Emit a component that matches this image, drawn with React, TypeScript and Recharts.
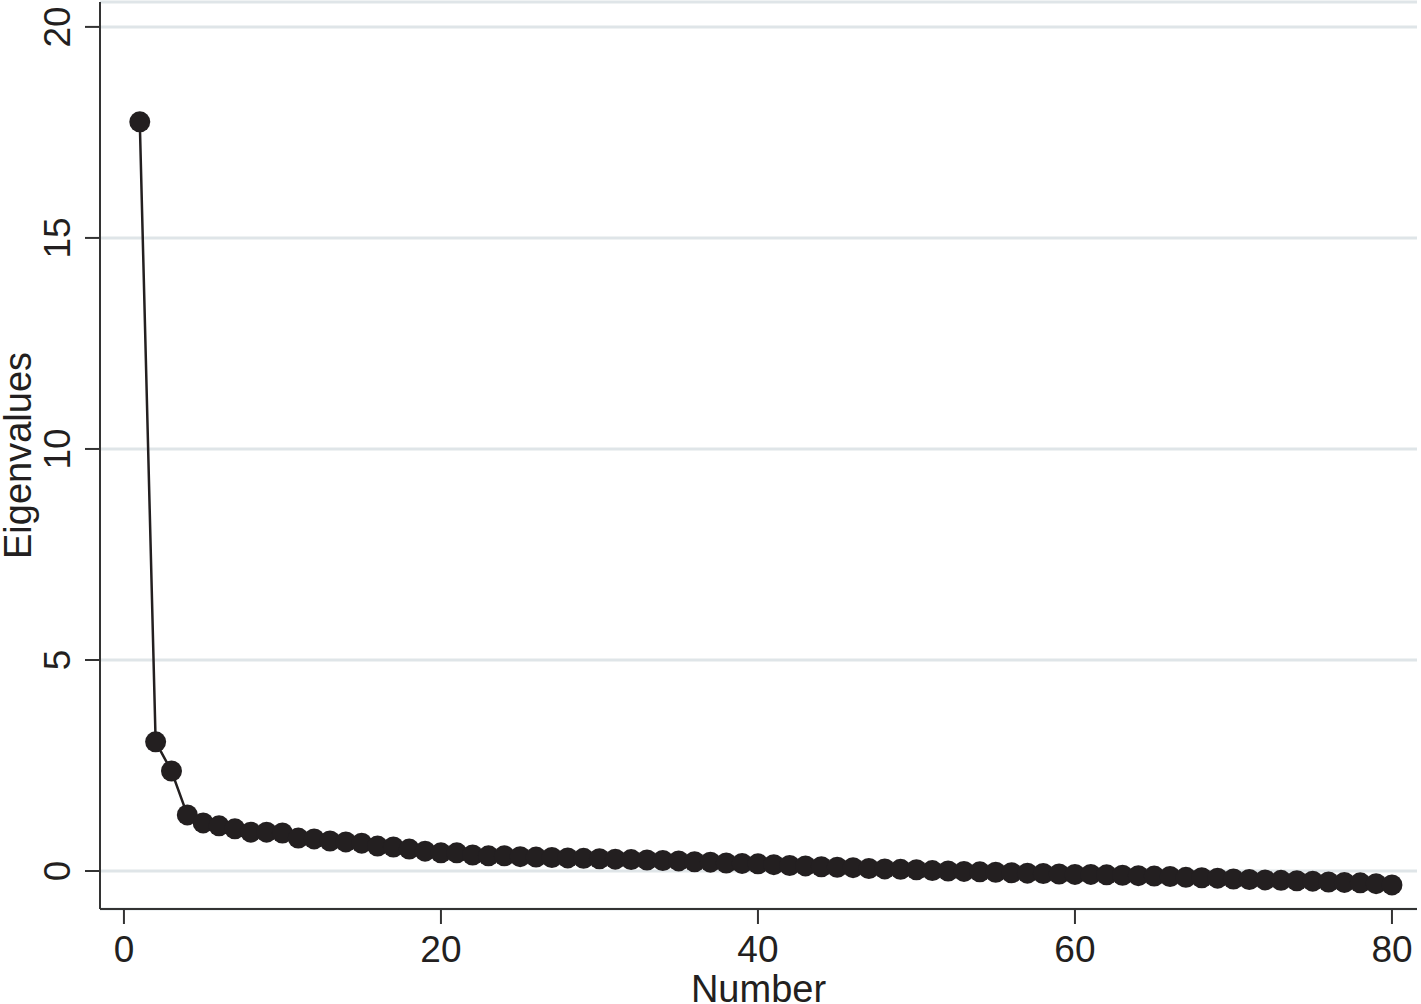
import { CartesianGrid, Label, Line, LineChart, XAxis, YAxis } from 'recharts'

const componentNumbers = Array.from({ length: 80 }, (_, i) => i + 1)

const eigenvalues = [
  17.75, 3.06, 2.37, 1.33, 1.14, 1.07, 1.0, 0.92, 0.92, 0.9,
  0.78, 0.76, 0.71, 0.69, 0.66, 0.59, 0.57, 0.52, 0.47, 0.43,
  0.43, 0.38, 0.36, 0.36, 0.34, 0.33, 0.32, 0.31, 0.3, 0.29,
  0.28, 0.27, 0.26, 0.25, 0.24, 0.22, 0.21, 0.19, 0.18, 0.17,
  0.15, 0.13, 0.12, 0.1, 0.09, 0.08, 0.06, 0.05, 0.04, 0.03,
  0.01, 0.0, -0.01, -0.02, -0.03, -0.04, -0.05, -0.06, -0.07, -0.08,
  -0.08, -0.09, -0.1, -0.11, -0.12, -0.13, -0.15, -0.16, -0.17, -0.19,
  -0.2, -0.21, -0.22, -0.23, -0.24, -0.26, -0.27, -0.28, -0.3, -0.33,
]

const xTicks = [0, 20, 40, 60, 80]
const yTicks = [0, 5, 10, 15, 20]

const chartData = componentNumbers.map((n, i) => ({ n, value: eigenvalues[i] }))

const FONT = '"Liberation Sans", Arial, Helvetica, sans-serif'
const INK = '#231f20'
const AXIS = '#333333'

function YTick({ x, y, payload }: any) {
  return (
    <text
      x={x}
      y={y}
      transform={`rotate(-90, ${x}, ${y})`}
      textAnchor="middle"
      fill={INK}
      fontFamily={FONT}
      fontSize={37}
    >
      {payload.value}
    </text>
  )
}

function XTick({ x, y, payload }: any) {
  return (
    <text x={x} y={y} dy="0.72em" textAnchor="middle" fill={INK} fontFamily={FONT} fontSize={37}>
      {payload.value}
    </text>
  )
}

export default function App() {
  return (
    <div style={{ position: 'absolute', left: 0, top: 0, background: '#fff' }}>
      <LineChart
        width={1421}
        height={1004}
        data={chartData}
        margin={{ top: 2, right: 4, bottom: 0, left: 0 }}
      >
        <CartesianGrid vertical={false} stroke="#dfe5e8" strokeWidth={3} />
        <XAxis
          type="number"
          dataKey="n"
          domain={[-1.51, 81.58]}
          ticks={xTicks}
          allowDataOverflow
          height={95}
          tickSize={15}
          tickMargin={11}
          tick={<XTick />}
          axisLine={{ stroke: AXIS, strokeWidth: 2 }}
          tickLine={{ stroke: AXIS, strokeWidth: 2 }}
        >
          <Label
            content={({ viewBox }: any) => (
              <text
                x={viewBox.x + viewBox.width / 2}
                y={viewBox.y + 93}
                textAnchor="middle"
                fill={INK}
                fontFamily={FONT}
                fontSize={38}
              >
                Number
              </text>
            )}
          />
        </XAxis>
        <YAxis
          type="number"
          domain={[-0.9, 20.59]}
          ticks={yTicks}
          allowDataOverflow
          width={100}
          tickSize={15}
          tickMargin={15}
          tick={<YTick />}
          axisLine={{ stroke: AXIS, strokeWidth: 2 }}
          tickLine={{ stroke: AXIS, strokeWidth: 2 }}
        >
          <Label
            content={({ viewBox }: any) => {
              const cx = 31
              const cy = viewBox.y + viewBox.height / 2
              return (
                <text
                  x={cx}
                  y={cy}
                  transform={`rotate(-90, ${cx}, ${cy})`}
                  textAnchor="middle"
                  fill={INK}
                  fontFamily={FONT}
                  fontSize={38}
                >
                  Eigenvalues
                </text>
              )
            }}
          />
        </YAxis>
        <Line
          type="linear"
          dataKey="value"
          stroke={INK}
          strokeWidth={2.5}
          dot={{ r: 10.5, fill: INK, stroke: INK, strokeWidth: 0 }}
          activeDot={false}
          isAnimationActive={false}
        />
      </LineChart>
    </div>
  )
}
